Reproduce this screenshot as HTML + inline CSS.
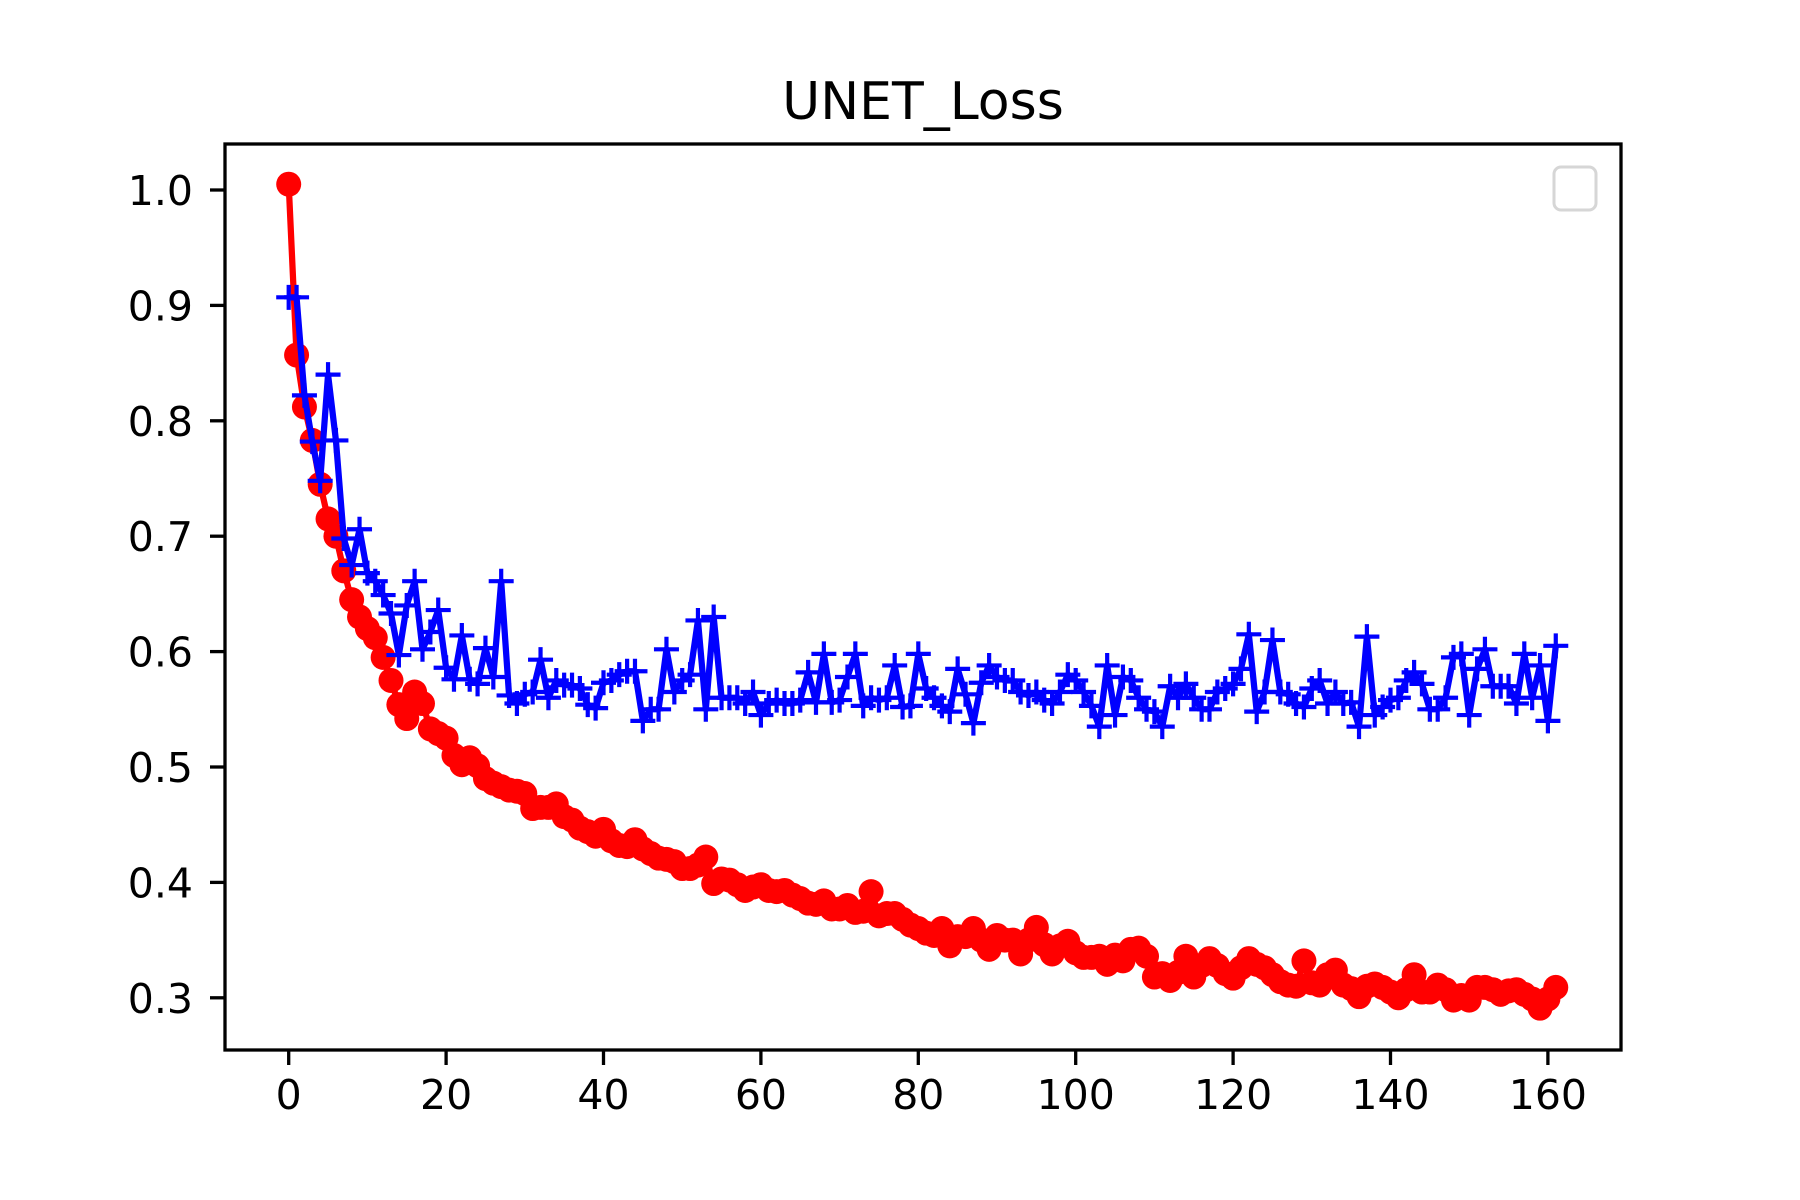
<!DOCTYPE html>
<html><head><meta charset="utf-8"><style>
html,body{margin:0;padding:0;background:#fff;}
svg{display:block;font-family:"DejaVu Sans","Liberation Sans",sans-serif;}
</style></head><body>
<svg id="chart" width="1800" height="1200" viewBox="0 0 1800 1200" xmlns="http://www.w3.org/2000/svg">
<rect width="1800" height="1200" fill="#fff"/>
<text x="923" y="119" font-size="52" text-anchor="middle" fill="#000">UNET_Loss</text>
<g id="plot"></g>
<rect x="225" y="144" width="1396" height="906" fill="none" stroke="#000" stroke-width="3.3"/>
<rect x="1554" y="167" width="42" height="43" rx="7" fill="#fff" stroke="#d6d6d6" stroke-width="3"/>
</svg>
<script>
const redLoss = [1.005,0.857,0.812,0.783,0.745,0.715,0.70,0.67,0.645,0.63,0.62,0.612,0.595,0.575,0.554,0.542,0.565,0.555,0.533,0.529,
0.525,0.51,0.502,0.508,0.501,0.49,0.486,0.483,0.48,0.479,0.477,0.464,0.465,0.465,0.468,0.457,0.454,0.447,0.444,0.44,
0.446,0.436,0.432,0.431,0.437,0.429,0.425,0.421,0.42,0.418,0.412,0.412,0.415,0.422,0.399,0.403,0.402,0.398,0.393,0.396,
0.398,0.393,0.392,0.393,0.389,0.386,0.382,0.381,0.384,0.377,0.377,0.38,0.374,0.375,0.392,0.371,0.373,0.373,0.368,0.363,
0.36,0.356,0.354,0.36,0.345,0.353,0.353,0.36,0.35,0.342,0.354,0.35,0.35,0.338,0.35,0.361,0.346,0.338,0.345,0.349,
0.339,0.335,0.335,0.336,0.329,0.337,0.332,0.342,0.343,0.336,0.318,0.321,0.315,0.322,0.336,0.318,0.328,0.334,0.328,0.321,
0.317,0.326,0.334,0.329,0.326,0.32,0.314,0.311,0.31,0.332,0.313,0.311,0.32,0.324,0.311,0.308,0.301,0.31,0.312,0.309,
0.305,0.3,0.307,0.32,0.305,0.305,0.311,0.307,0.298,0.302,0.298,0.309,0.309,0.307,0.303,0.306,0.307,0.303,0.299,0.291,
0.299,0.309];
const blueLoss = [0.907,0.907,0.822,0.782,0.748,0.84,0.783,0.698,0.675,0.706,0.668,0.661,0.649,0.633,0.597,0.640,0.661,0.602,0.617,0.636,
0.586,0.576,0.614,0.576,0.572,0.603,0.578,0.661,0.562,0.555,0.563,0.565,0.593,0.560,0.575,0.571,0.571,0.568,0.554,0.551,
0.573,0.575,0.58,0.583,0.583,0.540,0.55,0.55,0.602,0.565,0.575,0.58,0.627,0.55,0.63,0.56,0.56,0.56,0.555,0.565,
0.545,0.555,0.558,0.555,0.555,0.558,0.582,0.556,0.598,0.556,0.558,0.578,0.598,0.553,0.56,0.558,0.56,0.588,0.552,0.553,
0.598,0.568,0.56,0.553,0.548,0.585,0.563,0.538,0.573,0.588,0.578,0.575,0.575,0.565,0.562,0.565,0.558,0.555,0.565,0.58,
0.575,0.565,0.553,0.535,0.588,0.545,0.578,0.575,0.56,0.55,0.548,0.535,0.57,0.56,0.572,0.56,0.55,0.55,0.565,0.568,
0.572,0.585,0.615,0.548,0.565,0.61,0.565,0.563,0.555,0.552,0.568,0.575,0.555,0.565,0.555,0.556,0.535,0.613,0.545,0.552,
0.558,0.56,0.575,0.582,0.572,0.55,0.55,0.56,0.595,0.598,0.545,0.585,0.602,0.57,0.57,0.57,0.555,0.598,0.56,0.588,
0.54,0.605];
const xTicks = [0,20,40,60,80,100,120,140,160];
const yTicks = [0.3,0.4,0.5,0.6,0.7,0.8,0.9,1.0];
const yTickLabels = ["0.3","0.4","0.5","0.6","0.7","0.8","0.9","1.0"];

const NS = "http://www.w3.org/2000/svg";
const X0 = 288.7, XS = 7.87;
const Y1 = 190, YS = 1154;
function sx(i){ return X0 + XS*i; }
function sy(v){ return Y1 + (1 - v)*YS; }
const svg = document.getElementById('chart');
const plot = document.getElementById('plot');
function mk(tag, attrs, parent){
  const e = document.createElementNS(NS, tag);
  for (const k in attrs) e.setAttribute(k, attrs[k]);
  (parent||svg).appendChild(e);
  return e;
}
// x ticks
xTicks.forEach(t => {
  const l = mk('line', {x1:sx(t), x2:sx(t), y1:1050, y2:1065, stroke:'#000', 'stroke-width':3.3});
  
  
  const tx = mk('text', {x:sx(t), y:1109, 'font-size':41, 'text-anchor':'middle', fill:'#000'});
  tx.textContent = String(t);
  
  
});
yTicks.forEach((t, k) => {
  const l = mk('line', {x1:210, x2:225, y1:sy(t), y2:sy(t), stroke:'#000', 'stroke-width':3.3});
  
  
  const tx = mk('text', {x:193, y:sy(t)+15, 'font-size':41, 'text-anchor':'end', fill:'#000'});
  tx.textContent = yTickLabels[k];
  
  
});
// red series
const rp = mk('polyline', {points: redLoss.map((v,i)=>sx(i)+','+sy(v)).join(' '), fill:'none', stroke:'#ff0000', 'stroke-width':6.25, 'stroke-linejoin':'round'}, plot);


redLoss.forEach((v,i) => {
  const c = mk('circle', {cx:sx(i), cy:sy(v), r:12.5, fill:'#ff0000'}, plot);
  
  
});
// blue series
const bp = mk('polyline', {points: blueLoss.map((v,i)=>sx(i)+','+sy(v)).join(' '), fill:'none', stroke:'#0000ff', 'stroke-width':6.25, 'stroke-linejoin':'round'}, plot);


blueLoss.forEach((v,i) => {
  const x = sx(i), y = sy(v);
  const p = mk('path', {d:`M${x-12.5},${y}H${x+12.5}M${x},${y-12.5}V${y+12.5}`, stroke:'#0000ff', 'stroke-width':4.2, fill:'none'}, plot);
  
  
});
</script>
</body></html>
